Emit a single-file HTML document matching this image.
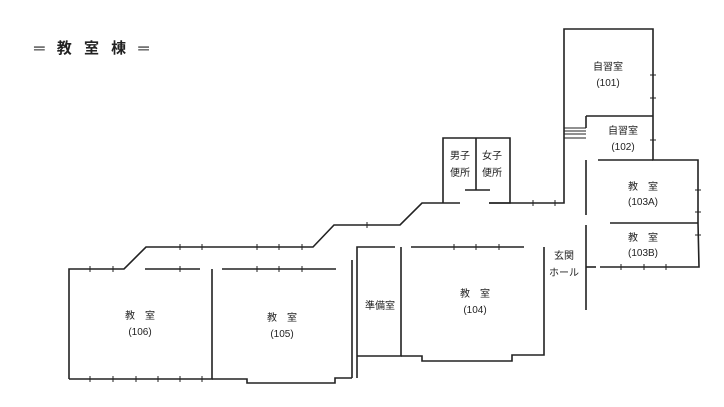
<html><body style="margin:0;background:#fff">
<svg width="724" height="407" xmlns="http://www.w3.org/2000/svg" style="font-family:'Liberation Sans','Noto Sans CJK JP',sans-serif">
<g fill="none" stroke="#222" stroke-width="1.6">
<polyline points="69,379 69,269 124,269 146,247 313,247 334,225 400,225 422,203 443,203"/>
<polyline points="489,203 564,203 564,29 653,29 653,160 698,160 698,223"/>
<line x1="586" y1="116" x2="653" y2="116"/>
<line x1="586" y1="116" x2="586" y2="128"/>
<line x1="586" y1="160" x2="586" y2="215"/>
<line x1="598" y1="160" x2="653" y2="160"/>
<line x1="610" y1="223" x2="698" y2="223"/>
<polyline points="586,225 586,310"/>
<polyline points="698,223 699,267 600,267"/>
<line x1="586" y1="267" x2="596" y2="267"/>
<polyline points="443,203 443,138 510,138 510,203 489,203"/>
<line x1="476" y1="138" x2="476" y2="190"/>
<line x1="465" y1="190" x2="490" y2="190"/>
<line x1="443" y1="203" x2="460" y2="203"/>
<polyline points="145,269 200,269"/>
<polyline points="69,379 212,379 212,269"/>
<polyline points="222,269 336,269"/>
<polyline points="212,379 247,379 247,383 335,383 335,378 352,378"/>
<line x1="352" y1="260" x2="352" y2="378"/>
<polyline points="357,378 357,247 395,247"/>
<polyline points="357,356 401,356 401,247"/>
<polyline points="411,247 524,247"/>
<polyline points="401,356 422,356 422,361 512,361 512,355 544,355 544,247"/>
<g stroke-width="1"><line x1="564" y1="128" x2="586" y2="128"/><line x1="564" y1="131" x2="586" y2="131"/><line x1="564" y1="134" x2="586" y2="134"/><line x1="564" y1="138" x2="586" y2="138"/></g>
</g>
<g stroke="#222" stroke-width="1">
<line x1="90" y1="266" x2="90" y2="272"/><line x1="113" y1="266" x2="113" y2="272"/><line x1="180" y1="244" x2="180" y2="250"/><line x1="202" y1="244" x2="202" y2="250"/><line x1="257" y1="244" x2="257" y2="250"/><line x1="279" y1="244" x2="279" y2="250"/><line x1="302" y1="244" x2="302" y2="250"/>
<line x1="180" y1="266" x2="180" y2="272"/><line x1="257" y1="266" x2="257" y2="272"/><line x1="279" y1="266" x2="279" y2="272"/><line x1="302" y1="266" x2="302" y2="272"/>
<line x1="90" y1="376" x2="90" y2="382"/><line x1="113" y1="376" x2="113" y2="382"/><line x1="136" y1="376" x2="136" y2="382"/><line x1="158" y1="376" x2="158" y2="382"/><line x1="180" y1="376" x2="180" y2="382"/><line x1="202" y1="376" x2="202" y2="382"/>
<line x1="367" y1="222" x2="367" y2="228"/><line x1="533" y1="200" x2="533" y2="206"/><line x1="555" y1="200" x2="555" y2="206"/>
<line x1="454" y1="244" x2="454" y2="250"/><line x1="476" y1="244" x2="476" y2="250"/><line x1="499" y1="244" x2="499" y2="250"/>
<line x1="650" y1="75" x2="656" y2="75"/><line x1="650" y1="98" x2="656" y2="98"/><line x1="650" y1="140" x2="656" y2="140"/><line x1="695" y1="190" x2="701" y2="190"/><line x1="695" y1="212" x2="701" y2="212"/><line x1="695" y1="235" x2="701" y2="235"/>
<line x1="644" y1="264" x2="644" y2="270"/><line x1="666" y1="264" x2="666" y2="270"/><line x1="621" y1="264" x2="621" y2="270"/>
</g>
<text x="34" y="53" font-size="15" font-weight="bold" fill="#222" letter-spacing="4">═ 教 室 棟 ═</text>
<g font-size="10" fill="#222" text-anchor="middle">
<text x="608" y="70">自習室</text><text x="608" y="86">(101)</text>
<text x="623" y="134">自習室</text><text x="623" y="150">(102)</text>
<text x="460" y="159">男子</text><text x="460" y="176">便所</text>
<text x="492" y="159">女子</text><text x="492" y="176">便所</text>
<text x="643" y="190">教　室</text><text x="643" y="205">(103A)</text>
<text x="643" y="241">教　室</text><text x="643" y="256">(103B)</text>
<text x="564" y="259">玄関</text><text x="564" y="276">ホール</text>
<text x="380" y="309">準備室</text>
<text x="475" y="297">教　室</text><text x="475" y="313">(104)</text>
<text x="140" y="319">教　室</text><text x="140" y="335">(106)</text>
<text x="282" y="321">教　室</text><text x="282" y="337">(105)</text>
</g>
</svg>
</body></html>
